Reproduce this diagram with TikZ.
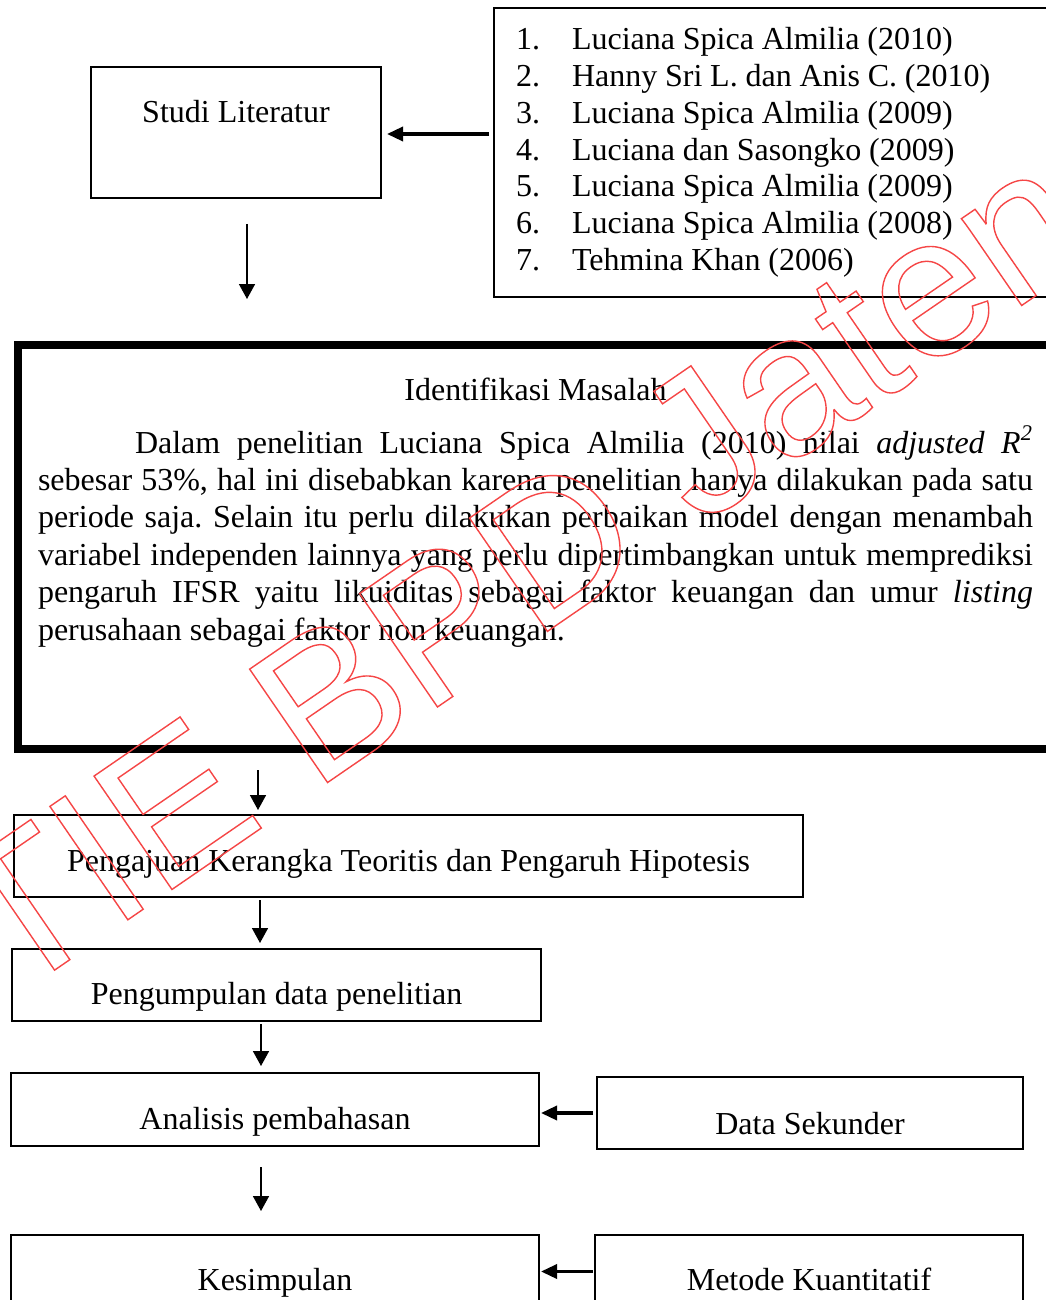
\documentclass[tikz,border=0pt]{standalone}
\usepackage{fontspec}
\setmainfont{Liberation Serif}
\newfontfamily\wmfont{Liberation Sans}
\usetikzlibrary{arrows.meta}
\definecolor{wmred}{RGB}{245,70,70}
\frenchspacing

\begin{document}
\begin{tikzpicture}[x=0.5pt, y=-0.5pt, every node/.style={font=\fontsize{16}{18.4}\selectfont, inner sep=0pt, outer sep=0pt},
    box/.style={draw, line width=1pt, text height=19pt, text depth=0pt},
    flow/.style={-{Triangle[length=7.5pt,width=8pt]}, line width=0.8pt},
    bigflow/.style={-{Triangle[length=8pt,width=7pt]}, line width=1.7pt},
    wmtext/.style={text=wmred, font=\wmfont\fontsize{100}{100}\selectfont, rotate=34.5, anchor=base west}]
    \useasboundingbox (0,0) rectangle (1045,1300);
    \node[box, minimum width=145pt, minimum height=65.5pt, text height=0pt, text depth=9.5pt] (0) at (236,132.5) {Studi Literatur};
    \node[draw, line width=1pt, minimum height=144.5pt, text width=266pt, inner xsep=11pt, align=left] (1) at (782,152.5) {%
        \spaceskip=3.9pt%
        \makebox[28pt][l]{1.}Luciana Spica Almilia (2010)\\
        \makebox[28pt][l]{2.}Hanny Sri L. dan Anis C. (2010)\\
        \makebox[28pt][l]{3.}Luciana Spica Almilia (2009)\\
        \makebox[28pt][l]{4.}Luciana dan Sasongko (2009)\\
        \makebox[28pt][l]{5.}Luciana Spica Almilia (2009)\\
        \makebox[28pt][l]{6.}Luciana Spica Almilia (2008)\\
        \makebox[28pt][l]{7.}Tehmina Khan (2006)};
    \node[draw, line width=4pt, minimum width=526.25pt, minimum height=202pt] (2) at (543.75,547) {};
    \node[anchor=base] (3) at (535.5,400) {Identifikasi Masalah};
    \node[anchor=north west, text width=497.5pt, align=justify, font=\fontsize{16}{18.7}\selectfont] (4) at (38,421) {%
        \rule{0pt}{16pt}\hspace*{48.5pt}Dalam penelitian Luciana Spica Almilia (2010) nilai \textit{adjusted R}\textsuperscript{\textit{2}}\linebreak
        sebesar 53\%, hal ini disebabkan karena penelitian hanya dilakukan pada satu\linebreak
        periode saja. Selain itu perlu dilakukan perbaikan model dengan menambah\linebreak
        variabel independen lainnya yang perlu dipertimbangkan untuk memprediksi\linebreak
        pengaruh IFSR yaitu likuiditas sebagai faktor keuangan dan umur \textit{listing}\linebreak
        perusahaan sebagai faktor non keuangan.};
    \node[box, minimum width=394.5pt, minimum height=41pt, text height=15pt] (5) at (408.5,856) {Pengajuan Kerangka Teoritis dan Pengaruh Hipotesis};
    \node[box, minimum width=264.5pt, minimum height=36pt] (6) at (276.5,985) {Pengumpulan data penelitian};
    \node[box, minimum width=264pt, minimum height=36.5pt, text height=19.5pt] (7) at (275,1109.5) {Analisis pembahasan};
    \node[box, minimum width=213pt, minimum height=36pt, text height=21pt] (8) at (810,1113) {Data Sekunder};
    \node[box, minimum width=264pt, minimum height=36.5pt] (9) at (275,1271.5) {Kesimpulan};
    \node[box, minimum width=214pt, minimum height=36.5pt] (10) at (809,1271.5) {Metode Kuantitatif};
    \node[wmtext] (11) at (-98,1075) {\special{pdf:literal direct 1 Tr 0.7 w}STIE BPD Jateng\special{pdf:literal direct 0 Tr}};
        \draw[bigflow, shorten <=2.5pt, shorten >=3pt] ([yshift=-0.75pt]1.west |- 0.east) -- ([yshift=-0.75pt]0.east);
        \draw[flow, shorten <=13pt, shorten >=23pt] ([xshift=5.5pt]0.south) -- ([xshift=5.5pt]0.south |- 2.north);
        \draw[flow, shorten <=10.5pt, shorten >=2.5pt] ([xshift=-75.25pt]5.north |- 2.south) -- ([xshift=-75.25pt]5.north);
        \draw[flow, shorten <=1.5pt, shorten >=3pt] ([xshift=-8.25pt]6.north |- 5.south) -- ([xshift=-8.25pt]6.north);
        \draw[flow, shorten <=1.5pt, shorten >=3.5pt] ([xshift=-7pt]7.north |- 6.south) -- ([xshift=-7pt]7.north);
        \draw[flow, shorten <=10.5pt, shorten >=12pt] ([xshift=-7pt]9.north |- 7.south) -- ([xshift=-7pt]9.north);
        \draw[bigflow, shorten <=2pt, shorten >=1pt] (8.west) -- (7.east |- 8.west);
        \draw[bigflow, shorten <=1pt, shorten >=1pt] (10.west) -- (9.east |- 10.west);
\end{tikzpicture}
\end{document}
